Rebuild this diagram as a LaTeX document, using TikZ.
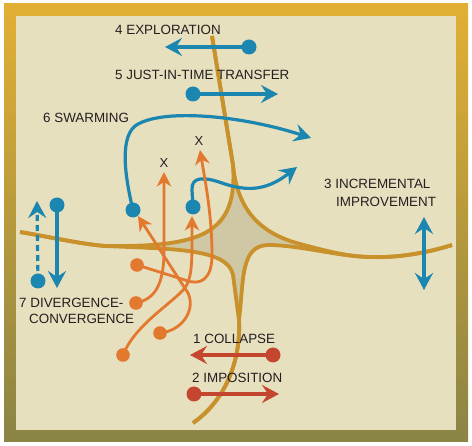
\documentclass[tikz,border=0pt]{standalone}
\usepackage{fontspec}
\setmainfont{Liberation Sans}
\usetikzlibrary{arrows.meta}
\definecolor{gold}{HTML}{C8912C}
\definecolor{cream}{HTML}{E7E0BF}
\definecolor{shadeg}{HTML}{D0C7A4}
\definecolor{blu}{HTML}{1B86B0}
\definecolor{ora}{HTML}{E3782F}
\definecolor{redd}{HTML}{C4462F}
\definecolor{txt}{HTML}{231F20}
\definecolor{topgold}{HTML}{E2AF34}
\definecolor{midwhite}{HTML}{F8F5EA}
\definecolor{botolive}{HTML}{8A8445}
\begin{document}
\begin{tikzpicture}[x=1pt,y=-1pt,
  lbl/.style={font=\fontsize{13.4}{16}\selectfont, text=txt, inner sep=0pt, anchor=base west},
  xmark/.style={font=\fontsize{13}{15}\selectfont, text=txt, inner sep=0pt},
  goldline/.style={draw=gold, line width=3.8pt},
  bigtip/.style={-{Stealth[length=17pt,width=18pt,inset=6pt]}},
  bothtip/.style={{Stealth[length=17pt,width=18pt,inset=6pt]}-{Stealth[length=17pt,width=18pt,inset=6pt]}},
  blueline/.style={draw=blu, line width=3.2pt},
  redline/.style={draw=redd, line width=3.2pt},
  oraline/.style={draw=ora, line width=2.8pt, -{Stealth[length=14.5pt,width=14.5pt,inset=4.5pt]}},
  dashline/.style={dash pattern=on 6pt off 4pt}
]
\useasboundingbox (0,0) rectangle (472,446);
% frame
\shade[top color=topgold, middle color=midwhite, bottom color=botolive] (4,4) rectangle (468,442);
\fill[cream] (16,16) rectangle (456,430);
% shaded centre
\fill[shadeg] (105,246) .. controls (200,247) and (238,235) .. (233,165)
  .. controls (237,205) and (255,232) .. (300,244)
  .. controls (330,252) and (350,257) .. (372,257)
  .. controls (340,257) and (300,245) .. (268,245)
  .. controls (240,246) and (244,280) .. (239,320)
  -- (233,275) .. controls (228,248) and (170,249) .. (105,246) -- cycle;
% gold curves
\draw[goldline] (212,36) -- (233,165) .. controls (238,235) and (200,247) .. (105,246)
  .. controls (80,244) and (45,236) .. (20,232);
\draw[goldline] (20,232) .. controls (45,236) and (80,244) .. (105,246)
  .. controls (170,249) and (228,248) .. (233,275) -- (239,320)
  .. controls (241,360) and (226,400) .. (193,423);
\draw[goldline] (212,36) -- (233,165) .. controls (237,205) and (255,232) .. (300,244)
  .. controls (330,252) and (350,257) .. (372,257)
  .. controls (400,258) and (430,252) .. (452,245);
\draw[goldline] (193,423) .. controls (226,400) and (241,360) .. (239,320)
  .. controls (244,280) and (240,246) .. (268,245)
  .. controls (300,245) and (340,257) .. (372,257)
  .. controls (400,258) and (430,252) .. (452,245);

% coordinates
\coordinate (exS) at (249,47);  \coordinate (exE) at (165,47);
\coordinate (jtS) at (193,94);  \coordinate (jtE) at (278,94);
\coordinate (sw1) at (133,210); \coordinate (sw1E) at (311,138);
\coordinate (sw2) at (193,207); \coordinate (sw2E) at (297,167);
\coordinate (dvS) at (38,281);  \coordinate (dvE) at (37,201);
\coordinate (cvS) at (57,205);  \coordinate (cvE) at (57,288);
\coordinate (inA) at (424,217); \coordinate (inB) at (424,290);
\coordinate (coS) at (273,355); \coordinate (coE) at (190,355);
\coordinate (imS) at (194,394); \coordinate (imE) at (279,394);
\coordinate (o1) at (160,333); \coordinate (o2) at (136,303);
\coordinate (o3) at (137,265); \coordinate (o4) at (123,355);
\coordinate (t1) at (138,216); \coordinate (t2) at (164,172);
\coordinate (t3) at (200,150); \coordinate (t4) at (192,216);

% labels
\node[lbl] (l4) at (115,35) {4 EXPLORATION};
\node[lbl] (l5) at (115,80) {5 JUST-IN-TIME TRANSFER};
\node[lbl] (l6) at (43,123) {6 SWARMING};
\node[lbl] (l3a) at (324,189) {3 INCREMENTAL};
\node[lbl] (l3b) at (336,207) {IMPROVEMENT};
\node[lbl] (l7a) at (19,308) {7 DIVERGENCE-};
\node[lbl] (l7b) at (29,324) {CONVERGENCE};
\node[lbl] (l1) at (193,344) {1 COLLAPSE};
\node[lbl] (l2) at (192,383) {2 IMPOSITION};
\node[xmark] (x1) at (164,163) {X};
\node[xmark] (x2) at (199,141) {X};

% blue arrows
\draw[blueline, bigtip] (exS) -- (exE);
\fill[blu] (exS) circle[radius=7.5pt];
\draw[blueline, bigtip] (jtS) -- (jtE);
\fill[blu] (jtS) circle[radius=7.5pt];
\draw[blueline, bigtip] (sw1) .. controls (127,185) and (118,140) .. (135,126)
  .. controls (160,108) and (240,115) .. (sw1E);
\fill[blu] (sw1) circle[radius=7.5pt];
\draw[blueline, bigtip] (sw2) -- (192,190) .. controls (191,176) and (205,177) .. (222,183)
  .. controls (245,191) and (265,192) .. (sw2E);
\fill[blu] (sw2) circle[radius=7.5pt];
\draw[blueline, dashline, bigtip] (dvS) -- (dvE);
\fill[blu] (dvS) circle[radius=7.5pt];
\draw[blueline, bigtip] (cvS) -- (cvE);
\fill[blu] (cvS) circle[radius=7.5pt];
\draw[blueline, bothtip] (inA) -- (inB);

% orange arrows
\draw[oraline] (o1) .. controls (182,331) and (196,310) .. (188,293) -- (t1);
\draw[oraline] (o2) .. controls (155,299) and (163,285) .. (164,255) -- (t2);
\draw[oraline] (o3) -- (185,280) .. controls (200,286) and (212,280) .. (212,255)
  .. controls (212,215) and (205,180) .. (t3);
\draw[oraline] (o4) .. controls (135,325) and (170,305) .. (185,288)
  .. controls (192,278) and (192,260) .. (192,240) -- (t4);
\foreach \p in {o1,o2,o3,o4} \fill[ora] (\p) circle[radius=6.8pt];

% red arrows
\draw[redline, bigtip] (coS) -- (coE);
\fill[redd] (coS) circle[radius=7.5pt];
\draw[redline, bigtip] (imS) -- (imE);
\fill[redd] (imS) circle[radius=7.5pt];
\end{tikzpicture}
\end{document}
